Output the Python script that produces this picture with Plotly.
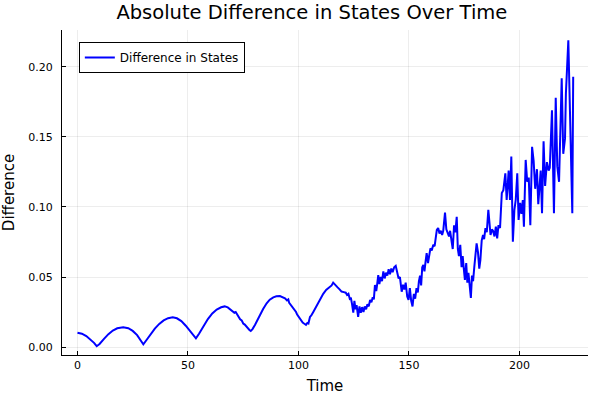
import plotly.graph_objects as go

time = [0, 2, 4, 6, 7.5, 8.7, 10, 12, 14, 16, 18, 20.7, 23, 25, 27, 28.7, 29.8, 31, 33, 35, 37, 39, 41, 43.1,
        45, 47, 49, 51, 52.5, 53.6, 55, 57, 59, 61, 63, 65, 66.6, 68, 69.2, 70.3, 71, 71.6, 72.3, 73, 73.6, 74.3,
        75, 75.7, 76.4, 77.1, 77.8, 78.4, 79.2, 80.3, 81.5, 82.6, 84, 85.6, 87, 88.6, 90, 91.6, 93, 93.9, 94.8,
        95.4, 95.8, 96.6, 97.2, 97.7, 98.3, 98.9, 99.4, 99.9, 100.5, 101, 101.5, 101.9, 102.5, 103, 103.4, 104,
        104.5, 105.2, 105.8, 106.7, 108, 109, 110.2, 111.2, 112.5, 113.9, 115, 115.7, 116.6, 117.6, 118.6, 119.5,
        120.5, 121.4, 122, 122.6, 123.2, 123.7, 124.2, 124.8, 125.3, 125.8, 126.3, 127, 127.6, 128.2, 128.8,
        129.4, 130, 130.6, 131.2, 131.8, 132.4, 133, 133.6, 134.1, 134.6, 135.2, 135.7, 136.1, 136.6, 137.2,
        137.8, 138.4, 139, 139.6, 140.2, 140.8, 141.4, 142, 142.6, 143.3, 144, 144.6, 145.3, 145.9, 146.7, 147.3,
        147.9, 148.5, 149.2, 149.8, 150.4, 151, 151.6, 152.2, 152.8, 153.4, 154, 154.5, 155, 155.5, 156, 156.5,
        157, 157.5, 158, 158.6, 159.2, 159.7, 160.3, 161, 161.6, 162.1, 162.6, 163.2, 163.8, 164.4, 165, 165.5,
        166.3, 166.9, 167.5, 168.1, 168.6, 169.2, 169.8, 170.4, 171, 171.6, 172.1, 172.6, 173.2, 173.8, 174.3,
        174.8, 175.3, 175.9, 176.4, 176.9, 177.4, 178, 178.5, 179, 179.6, 180.1, 180.6, 181.2, 181.8, 182.3,
        182.9, 183.5, 184, 184.6, 185.2, 185.9, 186.4, 186.9, 187.5, 188, 188.7, 189.3, 189.9, 190.5, 191.2,
        192, 192.7, 193.6, 194.2, 195.1, 195.7, 196.3, 197, 197.7, 198.3, 199, 199.6, 200.3, 200.9, 201.5, 202,
        202.8, 203.5, 204.2, 204.9, 205.7, 206.4, 207.1, 207.9, 208.5, 209.6, 210.2, 210.9, 211.6, 212.4, 213.2,
        213.7, 214.7, 215.6, 216.4, 217.1, 217.9, 219.1, 219.8, 220.6, 221.0, 222.1, 222.9, 223.9, 224.3]

difference = [0.0102, 0.0095, 0.0078, 0.0052, 0.0030, 0.0006, 0.0022, 0.0058, 0.0092, 0.0118, 0.0134, 0.0141,
              0.0134, 0.0115, 0.0085, 0.0045, 0.0019, 0.0045, 0.0092, 0.0132, 0.0165, 0.0190, 0.0206, 0.0212,
              0.0205, 0.0185, 0.0152, 0.0112, 0.0080, 0.0062, 0.0095, 0.0150, 0.0200, 0.0240, 0.0268, 0.0284,
              0.0290, 0.0283, 0.0270, 0.0258, 0.0245, 0.0250, 0.0228, 0.0215, 0.0198, 0.0190, 0.0168, 0.0160,
              0.0145, 0.0138, 0.0122, 0.0115, 0.0128, 0.0157, 0.0195, 0.0229, 0.0272, 0.0312, 0.0338, 0.0355,
              0.0362, 0.0364, 0.0357, 0.0348, 0.0333, 0.0340, 0.0315, 0.0300, 0.0290, 0.0275, 0.0262, 0.0250,
              0.0232, 0.0220, 0.0212, 0.0195, 0.0188, 0.0175, 0.0168, 0.0162, 0.0158, 0.0172, 0.0168, 0.0215,
              0.0225, 0.0250, 0.0290, 0.0322, 0.0355, 0.0380, 0.0408, 0.0428, 0.0440, 0.0460, 0.0442, 0.0428,
              0.0412, 0.0396, 0.0392, 0.0388, 0.0372, 0.0380, 0.0345, 0.0352, 0.0310, 0.0245, 0.0330, 0.0270,
              0.0300, 0.0215, 0.0290, 0.0245, 0.0285, 0.0250, 0.0290, 0.0270, 0.0305, 0.0290, 0.0336, 0.0320,
              0.0355, 0.0340, 0.0443, 0.0400, 0.0460, 0.0514, 0.0450, 0.0500, 0.0470, 0.0540, 0.0490, 0.0530,
              0.0510, 0.0555, 0.0520, 0.0560, 0.0535, 0.0570, 0.0580, 0.0530, 0.0490, 0.0500, 0.0395, 0.0445,
              0.0410, 0.0460, 0.0360, 0.0336, 0.0420, 0.0330, 0.0290, 0.0380, 0.0345, 0.0420, 0.0390, 0.0470,
              0.0510, 0.0440, 0.0570, 0.0586, 0.0540, 0.0610, 0.0670, 0.0600, 0.0680, 0.0705, 0.0690, 0.0730,
              0.0720, 0.0800, 0.0836, 0.0850, 0.0810, 0.0830, 0.0800, 0.0830, 0.0960, 0.0840, 0.0820, 0.0790,
              0.0830, 0.0760, 0.0700, 0.0870, 0.0820, 0.0930, 0.0700, 0.0650, 0.0730, 0.0570, 0.0650, 0.0560,
              0.0480, 0.0600, 0.0460, 0.0530, 0.0420, 0.0350, 0.0510, 0.0470, 0.0580, 0.0660, 0.0740, 0.0680,
              0.0560, 0.0620, 0.0760, 0.0800, 0.0770, 0.0850, 0.0820, 0.0980, 0.0860, 0.0800, 0.0840, 0.0830,
              0.0790, 0.0860, 0.0776, 0.0870, 0.0850, 0.1100, 0.1120, 0.1240, 0.1050, 0.1260, 0.1050, 0.1360,
              0.0752, 0.0980, 0.1050, 0.1240, 0.0907, 0.1030, 0.0950, 0.1050, 0.0860, 0.1336, 0.1180, 0.1210,
              0.0870, 0.1430, 0.1330, 0.1130, 0.1270, 0.1020, 0.1260, 0.0955, 0.1470, 0.1150, 0.1320, 0.1260,
              0.1280, 0.1690, 0.0955, 0.1780, 0.1290, 0.1180, 0.1920, 0.1380, 0.1490, 0.1810, 0.2190, 0.1600,
              0.0955, 0.1930]

x_ticks = [0, 50, 100, 150, 200]
y_ticks = [0.00, 0.05, 0.10, 0.15, 0.20]

FONT = "DejaVu Sans"

fig = go.Figure()
fig.add_trace(go.Scatter(
    x=time, y=difference, mode="lines", name="Difference in States",
    line=dict(color="#0000FF", width=2),
))

axis_common = dict(
    showline=True, linecolor="black", linewidth=1,
    showgrid=True, gridcolor="rgba(0,0,0,0.07)", gridwidth=1,
    ticks="inside", ticklen=4, tickcolor="black",
    zeroline=False, mirror=False, automargin=False,
    tickfont=dict(family=FONT, size=11, color="black"),
)

fig.update_layout(
    width=600, height=400,
    paper_bgcolor="white", plot_bgcolor="white",
    margin=dict(l=62, r=12, t=30, b=45),
    title=dict(text="Absolute Difference in States Over Time", x=0.475, xref="paper",
               xanchor="center", y=0.97, yref="container", yanchor="middle",
               font=dict(family=FONT, size=19.5, color="black")),
    xaxis=dict(range=[-7.0, 231.0], tickvals=x_ticks,
               title=dict(text="Time", font=dict(family=FONT, size=15, color="black"), standoff=9),
               **axis_common),
    yaxis=dict(range=[-0.0057, 0.2264], tickvals=y_ticks, tickformat=".2f", ticklabelstandoff=6,
               title=dict(text="Difference", font=dict(family=FONT, size=15, color="black"), standoff=13),
               **axis_common),
    showlegend=True,
    legend=dict(x=0.032, y=0.963, xanchor="left", yanchor="top",
                bgcolor="white", bordercolor="black", borderwidth=1,
                tracegroupgap=0, itemwidth=30,
                font=dict(family=FONT, size=12, color="black")),
)

fig.write_html("out.html", config={"displayModeBar": False},
               post_script="document.body.style.margin='0';")
